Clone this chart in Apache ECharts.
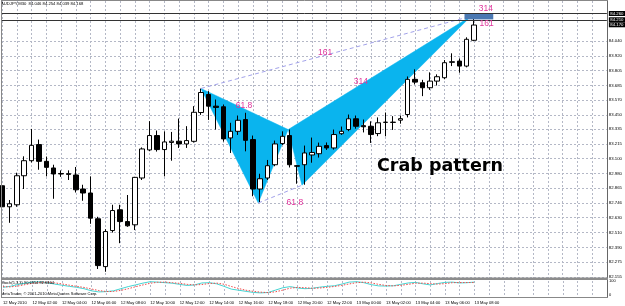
<!DOCTYPE html>
<html><head><meta charset="utf-8">
<script src="https://cdn.jsdelivr.net/npm/echarts@6/dist/echarts.min.js"></script>
<style>html,body{margin:0;padding:0;background:#fff}#c{width:625px;height:306px}</style>
</head><body><div id="c"></div>
<script>
// ---- data ----
const xTickLabels = ['12 May 2010','12 May 02:00','12 May 04:00','12 May 06:00','12 May 08:00','12 May 10:00','12 May 12:00','12 May 14:00','12 May 16:00','12 May 18:00','12 May 20:00','12 May 22:00','13 May 00:00','13 May 02:00','13 May 04:00','13 May 06:00','13 May 08:00'];
const priceTickLabels = ['82.155','82.275','82.390','82.510','82.630','82.746','82.865','82.980','83.100','83.215','83.335','83.450','83.570','83.685','83.805','83.920','84.040'];
const barOpen  = [82.884,82.716,82.732,82.964,83.084,83.213,83.079,83.026,82.978,82.980,82.970,82.858,82.826,82.620,82.238,82.526,82.692,82.598,82.572,82.946,83.170,83.285,83.173,83.230,83.240,83.218,83.239,83.469,83.613,83.520,83.515,83.266,83.319,83.413,83.253,82.858,82.946,83.052,83.221,83.285,83.044,83.052,83.130,83.140,83.205,83.186,83.300,83.333,83.419,83.364,83.359,83.301,83.390,83.392,83.408,83.453,83.734,83.707,83.667,83.720,83.747,83.870,83.880,83.840,84.046];
const barClose = [82.716,82.740,82.964,83.084,83.207,83.079,83.031,82.978,82.982,82.975,82.852,82.826,82.625,82.246,82.518,82.686,82.598,82.564,82.951,83.178,83.285,83.173,83.234,83.240,83.218,83.245,83.471,83.629,83.520,83.510,83.258,83.319,83.407,83.247,82.858,82.940,83.044,83.218,83.279,83.052,83.040,83.146,83.150,83.199,83.186,83.293,83.319,83.419,83.359,83.355,83.293,83.387,83.392,83.390,83.420,83.734,83.712,83.667,83.720,83.755,83.867,83.875,83.840,84.054,84.168];
const barLow   = [82.700,82.588,82.716,82.858,83.070,83.012,82.959,82.780,82.955,82.930,82.830,82.764,82.580,82.219,82.197,82.510,82.425,82.556,82.530,82.930,83.160,83.157,82.959,83.084,83.186,83.186,83.229,83.450,83.410,83.333,83.237,83.146,83.290,83.159,82.800,82.748,82.930,83.040,83.210,83.030,82.900,82.892,83.068,83.109,83.170,83.173,83.290,83.320,83.340,83.310,83.226,83.280,83.279,83.330,83.380,83.430,83.693,83.600,83.650,83.685,83.735,83.840,83.787,83.830,84.039];
const barHigh  = [82.920,82.770,82.988,83.119,83.338,83.253,83.117,83.052,83.007,83.007,83.034,82.892,82.959,82.636,82.537,82.732,82.732,82.810,82.955,83.190,83.400,83.325,83.319,83.314,83.421,83.360,83.520,83.660,83.640,83.573,83.533,83.387,83.445,83.467,83.285,82.980,83.090,83.245,83.319,83.333,83.050,83.205,83.269,83.229,83.230,83.333,83.357,83.453,83.445,83.413,83.399,83.430,83.469,83.440,83.445,83.757,83.814,83.730,83.790,83.774,83.888,83.942,83.900,84.070,84.254];
const stochMain   = [55,62,75,84,92,94,88,78,70,62,55,45,30,22,24,30,45,60,72,85,95,92,88,84,76,68,72,86,88,80,62,42,34,26,18,15,18,35,52,60,50,45,48,56,62,66,78,92,95,88,74,65,64,66,76,86,90,80,72,82,90,92,86,88,92];
const stochSignal = [60,58,64,74,84,90,91,87,79,70,62,54,43,32,25,25,33,45,59,72,84,91,92,88,83,76,72,75,82,85,77,61,46,34,26,20,17,23,35,49,54,52,48,50,55,61,69,79,88,92,86,76,68,65,69,76,84,85,81,78,81,88,89,89,89];
const levelPrices = [84.262, 84.213];
const currentPrice = 84.168;
const patternBar   = [26.97, 34.74, 38.8, 40.66, 63.57];   // X A B C D
const patternPrice = [83.661, 82.746, 83.333, 82.888, 84.238];
const fibText  = ['61.8','161','314','61.8','314','161'];
const fibBar   = [32.8, 43.8, 48.66, 39.7, 65.6, 65.7];
const fibPrice = [83.520, 83.950, 83.717, 82.748, 84.298, 84.178];
const zoneBars = [62.7, 66.6];
const zonePrices = [84.262, 84.213];

// ---- build ----
const NSLOT = 83;
const categories = [];
for (let i = 0; i < NSLOT; i++) categories.push(String(i));
const candles = barOpen.map((o, i) => [o, barClose[i], barLow[i], barHigh[i]]);
const gridLine = {show: true, interval: (i) => i % 2 === 0, lineStyle: {color: '#b4b8c6', type: [2, 2], width: 1}};
const FONT = 'Liberation Sans';
const boxLabel = {show: true, position: 'end', distance: 2, formatter: (p) => p.value.toFixed(3), fontSize: 4.3, color: '#fff', backgroundColor: '#000', padding: [0.5, 1.5], fontFamily: FONT, opacity: 1};

const chart = echarts.init(document.getElementById('c'), null, {renderer: 'canvas'});
chart.setOption({
  animation: false,
  backgroundColor: '#ffffff',
  title: [
    {text: 'AUDJPY,M30  84.046 84.254 84.039 84.168', left: 1, top: 2, padding: 0, textStyle: {fontSize: 4.2, fontWeight: 'normal', color: '#000', fontFamily: FONT}},
    {text: 'Stoch(5,3,3) 90.6954 82.6464', left: 1, top: 280.5, padding: 0, textStyle: {fontSize: 4, fontWeight: 'normal', color: '#000', fontFamily: FONT}},
    {text: 'MetaTrader, © 2001-2010 MetaQuotes Software Corp.', left: 1, top: 291.5, padding: 0, textStyle: {fontSize: 4, fontWeight: 'normal', color: '#000', fontFamily: FONT}},
    {text: 'Crab pattern', left: 377, top: 157, padding: 0, textStyle: {fontSize: 17.5, fontWeight: 'bold', color: '#000', fontFamily: 'DejaVu Sans'}}
  ],
  grid: [
    {left: 2, top: 1, width: 605, height: 277},
    {left: 2, top: 281, width: 605, height: 14}
  ],
  xAxis: [
    {type: 'category', gridIndex: 0, data: categories, boundaryGap: false, axisLine: {show: false}, axisTick: {show: false}, axisLabel: {show: false}, splitLine: gridLine},
    {type: 'category', gridIndex: 1, data: categories, boundaryGap: false, axisLine: {show: false}, axisTick: {show: false},
      axisLabel: {show: true, interval: 0, margin: 5.5, align: 'left', fontSize: 4.1, color: '#000', fontFamily: FONT,
        formatter: (v, i) => (i % 4 === 0 && i / 4 < xTickLabels.length) ? xTickLabels[i / 4] : ''},
      splitLine: gridLine},
    {type: 'value', gridIndex: 0, min: 0, max: NSLOT - 1, show: false}
  ],
  yAxis: [
    {type: 'value', gridIndex: 0, position: 'right', min: 82.147, max: 84.36, scale: true,
      axisLine: {show: false}, axisTick: {show: false, customValues: priceTickLabels.map(Number)},
      axisLabel: {show: true, customValues: priceTickLabels.map(Number), margin: 2, fontSize: 4.3, color: '#000', fontFamily: FONT,
        formatter: (v) => v.toFixed(3)},
      splitLine: {show: true, lineStyle: {color: '#b4b8c6', type: [2, 2], width: 1}}},
    {type: 'value', gridIndex: 1, position: 'right', min: 0, max: 100, interval: 100,
      axisLine: {show: false}, axisTick: {show: false},
      axisLabel: {show: true, margin: 2, fontSize: 4, color: '#000', fontFamily: FONT},
      splitLine: {show: false}}
  ],
  graphic: [
    {type: 'line', shape: {x1: 1.5, y1: 0, x2: 1.5, y2: 297}, style: {stroke: '#888', lineWidth: 1}, z: 100},
    {type: 'line', shape: {x1: 607.5, y1: 0, x2: 607.5, y2: 297}, style: {stroke: '#666', lineWidth: 1}, z: 100},
    {type: 'line', shape: {x1: 1, y1: 0.5, x2: 608, y2: 0.5}, style: {stroke: '#888', lineWidth: 1}, z: 100},
    {type: 'rect', shape: {x: 1, y: 277.5, width: 607, height: 2.5}, style: {fill: '#8c8c8c'}, z: 100},
    {type: 'line', shape: {x1: 1, y1: 297.5, x2: 608, y2: 297.5}, style: {stroke: '#888', lineWidth: 1}, z: 100}
  ],
  series: [
    {
      type: 'custom', name: 'pattern', xAxisIndex: 2, yAxisIndex: 0, z: 1, silent: true,
      data: [[0, 1, 2], [2, 3, 4]],
      renderItem: (params, api) => {
        const pts = [0, 1, 2].map(k => { const j = api.value(k); return api.coord([patternBar[j], patternPrice[j]]); });
        return {type: 'polygon', shape: {points: pts}, style: {fill: '#0ab4ee', stroke: '#0ab4ee', lineWidth: 0.5}};
      }
    },
    {
      type: 'custom', name: 'patternLines', xAxisIndex: 2, yAxisIndex: 0, z: 3, silent: true,
      data: [[0, 4], [1, 3]],
      renderItem: (params, api) => {
        const a = api.value(0), b = api.value(1);
        const p1 = api.coord([patternBar[a], patternPrice[a]]);
        const p2 = api.coord([patternBar[b], patternPrice[b]]);
        return {type: 'line', shape: {x1: p1[0], y1: p1[1], x2: p2[0], y2: p2[1]}, style: {stroke: '#a2a2ea', lineWidth: 1, lineDash: [4, 3]}};
      }
    },
    {
      type: 'custom', name: 'zone', xAxisIndex: 2, yAxisIndex: 0, z: 4, silent: true,
      data: [[zoneBars[0], zonePrices[0], zoneBars[1], zonePrices[1]]],
      renderItem: (params, api) => {
        const p1 = api.coord([api.value(0), api.value(1)]);
        const p2 = api.coord([api.value(2), api.value(3)]);
        return {type: 'rect', shape: {x: p1[0], y: p1[1], width: p2[0] - p1[0], height: p2[1] - p1[1]}, style: {fill: '#4a78b2'}};
      }
    },
    {
      type: 'candlestick', name: 'AUDJPY', xAxisIndex: 0, yAxisIndex: 0, z: 2,
      data: candles, barWidth: 5,
      itemStyle: {color: '#ffffff', color0: '#000000', borderColor: '#000000', borderColor0: '#000000', borderWidth: 1},
      markLine: {
        silent: true, symbol: 'none', animation: false,
        label: boxLabel,
        data: [
          {yAxis: levelPrices[0], lineStyle: {color: '#333', width: 1, type: 'solid'}},
          {yAxis: levelPrices[1], lineStyle: {color: '#333', width: 1, type: 'solid'}},
          {yAxis: currentPrice, lineStyle: {color: 'rgba(0,0,0,0)', width: 1, type: 'solid'}, label: boxLabel}
        ]
      }
    },
    {
      type: 'custom', name: 'fibLabels', xAxisIndex: 2, yAxisIndex: 0, z: 5, silent: true,
      data: fibText.map((t, i) => [fibBar[i], fibPrice[i], i]),
      renderItem: (params, api) => {
        const p = api.coord([api.value(0), api.value(1)]);
        return {type: 'text', x: p[0], y: p[1], style: {text: fibText[api.value(2)], fill: '#e0359c', font: '8.5px Liberation Sans', align: 'center', verticalAlign: 'middle'}};
      }
    },
    {type: 'line', name: 'Main', xAxisIndex: 1, yAxisIndex: 1, data: stochMain, showSymbol: false, lineStyle: {color: '#45d4d2', width: 1}},
    {type: 'line', name: 'Signal', xAxisIndex: 1, yAxisIndex: 1, data: stochSignal, showSymbol: false, lineStyle: {color: '#f04a4a', width: 1, type: [1.5, 1.5]}}
  ]
});
</script>
</body></html>
